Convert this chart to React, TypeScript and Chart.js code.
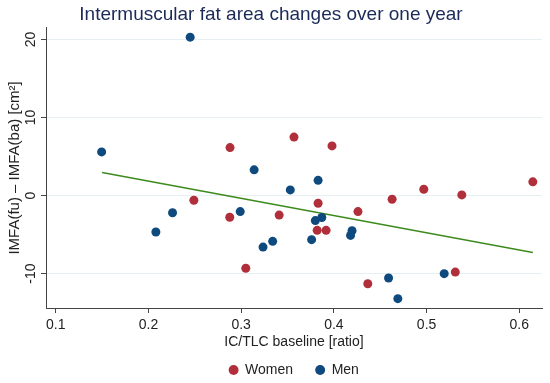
import React, { useEffect, useRef } from "react";
import { Chart, registerables } from "chart.js";

Chart.register(...registerables);

const TITLE = "Intermuscular fat area changes over one year";
const X_TITLE = "IC/TLC baseline [ratio]";
const Y_TITLE = "IMFA(fu) \u2013 IMFA(ba) [cm\u00B2]";

const womenX = [0.288, 0.357, 0.249, 0.2877, 0.305, 0.341, 0.383, 0.382, 0.398, 0.3916, 0.426, 0.4628, 0.497, 0.538, 0.6146, 0.4366, 0.531];
const womenY = [6.15, 7.5, -0.6, -2.78, -9.3, -2.5, -0.98, -4.45, 6.37, -4.45, -2.05, -0.47, 0.81, 0.09, 1.76, -11.3, -9.8];

const menX = [0.245, 0.1495, 0.314, 0.383, 0.353, 0.226, 0.208, 0.299, 0.3236, 0.334, 0.376, 0.38, 0.387, 0.4196, 0.418, 0.459, 0.469, 0.519];
const menY = [20.3, 5.6, 3.3, 1.96, 0.73, -2.2, -4.66, -2.05, -6.6, -5.86, -5.64, -3.2, -2.8, -4.5, -5.1, -10.55, -13.2, -10.0];

const fitX = [0.15, 0.6146];
const fitY = [2.95, -7.3];

const xTickValues = [0.1, 0.2, 0.3, 0.4, 0.5, 0.6];
const xTickLabels = ["0.1", "0.2", "0.3", "0.4", "0.5", "0.6"];
const yTickValues = [-10, 0, 10, 20];
const yTickLabels = ["-10", "0", "10", "20"];

const FONT = "'Liberation Sans', Arial, sans-serif";
const RED = "#b02f3b";
const BLUE = "#0e4a7e";
const GREEN = "#3d8a1e";
const AXIS = "#444444";
const TEXT = "#222222";

const yTickPlugin = {
  id: "yTickLabels",
  afterDraw(chart: any) {
    const scale = chart.scales.y;
    const ctx = chart.ctx;
    ctx.save();
    ctx.fillStyle = TEXT;
    ctx.font = `14px ${FONT}`;
    ctx.textAlign = "center";
    ctx.textBaseline = "middle";
    yTickValues.forEach((v, i) => {
      const py = scale.getPixelForValue(v);
      ctx.save();
      ctx.translate(scale.right - 15, py);
      ctx.rotate(-Math.PI / 2);
      ctx.fillText(yTickLabels[i], 0, 0);
      ctx.restore();
    });
    ctx.restore();
  },
};

export default function App() {
  const ref = useRef<HTMLCanvasElement | null>(null);

  useEffect(() => {
    document.body.style.margin = "0";
    if (!ref.current) return;
    const chart = new Chart(ref.current, {
      type: "scatter",
      data: {
        datasets: [
          {
            label: "Women",
            data: womenX.map((x, i) => ({ x, y: womenY[i] })),
            backgroundColor: RED,
            borderColor: RED,
            pointRadius: 4.5,
            pointBorderWidth: 0,
            order: 0,
          },
          {
            label: "Men",
            data: menX.map((x, i) => ({ x, y: menY[i] })),
            backgroundColor: BLUE,
            borderColor: BLUE,
            pointRadius: 4.5,
            pointBorderWidth: 0,
            order: 0,
          },
          {
            type: "line",
            label: "Fit",
            data: fitX.map((x, i) => ({ x, y: fitY[i] })),
            borderColor: GREEN,
            backgroundColor: GREEN,
            borderWidth: 1.5,
            pointRadius: 0,
            showLine: true,
            fill: false,
            order: 1,
          } as any,
        ],
      },
      options: {
        responsive: false,
        animation: false,
        layout: { padding: { left: 0, right: 8, top: 0, bottom: -4 } },
        plugins: {
          title: {
            display: true,
            text: TITLE,
            color: "#1b2a59",
            font: { family: FONT, size: 19, weight: "normal" },
            padding: { top: 3, bottom: 2 },
          },
          legend: {
            position: "bottom",
            fullSize: false,
            labels: {
              usePointStyle: true,
              pointStyle: "circle",
              boxWidth: 9,
              boxHeight: 7,
              padding: 7,
              color: TEXT,
              font: { family: FONT, size: 14 },
              generateLabels: (chart: any) => {
                const items = Chart.defaults.plugins.legend.labels.generateLabels(chart);
                return items
                  .filter((it: any) => it.text !== "Fit")
                  .map((it: any) => ({
                    ...it,
                    text: it.text === "Women" ? "Women    " : it.text,
                    lineWidth: 0,
                    strokeStyle: "transparent",
                  }));
              },
            },
          },
          tooltip: { enabled: false },
        },
        scales: {
          x: {
            type: "linear",
            min: 0.0895,
            max: 0.6245,
            afterBuildTicks: (scale: any) => {
              scale.ticks = xTickValues.map((v) => ({ value: v }));
            },
            ticks: {
              color: TEXT,
              font: { family: FONT, size: 14, lineHeight: 1 },
              padding: 5,
              maxRotation: 0,
              callback: (v: any) => {
                const idx = xTickValues.findIndex((t) => Math.abs(t - Number(v)) < 1e-9);
                return idx >= 0 ? xTickLabels[idx] : "";
              },
            },
            grid: {
              drawOnChartArea: false,
              drawTicks: true,
              tickLength: 5,
              tickColor: AXIS,
            },
            border: { color: AXIS, width: 1 },
            title: {
              display: true,
              text: X_TITLE,
              color: TEXT,
              font: { family: FONT, size: 14 },
              padding: { top: -3.4, bottom: 5.6 },
            },
          },
          y: {
            type: "linear",
            min: -14.4,
            max: 21.5,
            afterBuildTicks: (scale: any) => {
              scale.ticks = yTickValues.map((v) => ({ value: v }));
            },
            ticks: { display: false },
            grid: {
              color: "#e6f0f2",
              lineWidth: 1,
              drawTicks: true,
              tickLength: 5,
              tickColor: AXIS,
            },
            border: { color: AXIS, width: 1 },
            title: {
              display: true,
              text: Y_TITLE,
              color: TEXT,
              font: { family: FONT, size: 15 },
              padding: { top: 6, bottom: 17 },
            },
          },
        },
      },
      plugins: [yTickPlugin],
    });
    return () => chart.destroy();
  }, []);

  return (
    <div style={{ width: 550, height: 383, background: "#ffffff" }}>
      <canvas ref={ref} width={550} height={383} />
    </div>
  );
}
